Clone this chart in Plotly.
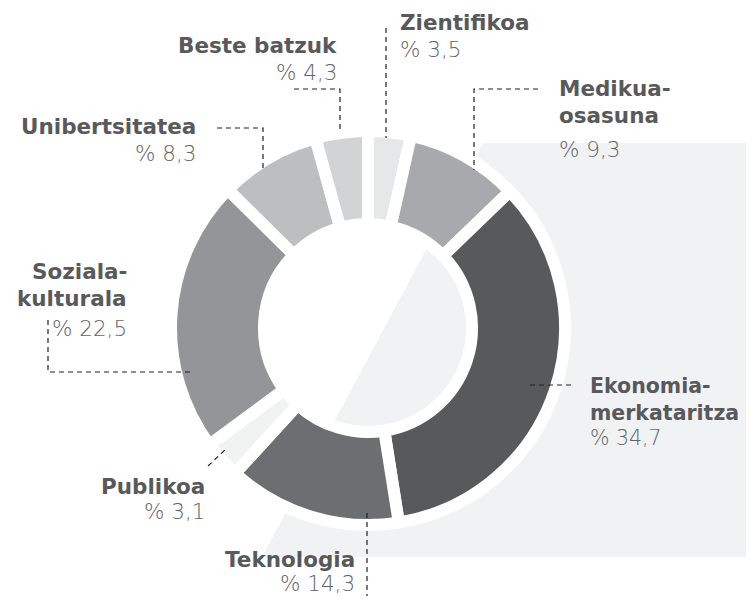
import plotly.graph_objects as go

# ---- data ----
labels = ["Zientifikoa", "Medikua-<br>osasuna", "Ekonomia-<br>merkataritza", "Teknologia",
          "Publikoa", "Soziala-<br>kulturala", "Unibertsitatea", "Beste batzuk"]
values = [3.5, 9.3, 34.7, 14.3, 3.1, 22.5, 8.3, 4.3]
colors = ["#e6e7e8", "#a7a9ac", "#58595b", "#6d6e71", "#f1f2f2", "#939598", "#bcbec0", "#d1d3d4"]

OFF = 8               # page body margin
W, H = 754 - 2 * OFF, 604 - 2 * OFF   # figure fits the window without scrolling

def X(px):            # page pixel -> paper fraction
    return (px - OFF) / W

def Y(py):
    return 1 - (py - OFF) / H

# donut geometry (page pixels)
cx, cy, R = 368, 328, 197

fig = go.Figure()
fig.add_trace(go.Pie(
    labels=labels, values=values, sort=False, direction="clockwise", rotation=0,
    hole=0.528, textinfo="none", hoverinfo="label+value",
    marker=dict(colors=colors, line=dict(color="white", width=12)),
    domain=dict(x=[X(cx - R), X(cx + R)], y=[Y(cy + R), Y(cy - R)]),
    showlegend=False,
))

shapes = []
# background panel
shapes.append(dict(type="path", xref="paper", yref="paper", layer="below",
                   path=f"M {X(483)},{Y(143)} L {X(760)},{Y(143)} L {X(760)},{Y(557)} L {X(262)},{Y(557)} Z",
                   fillcolor="#f1f2f4", line=dict(width=0)))

leaders = [
    [(386, 28), (386, 138)],
    [(538, 89), (474, 89), (474, 170)],
    [(571, 385), (528, 385)],
    [(367, 513), (367, 610)],
    [(208, 466), (227, 448)],
    [(48, 320), (48, 372), (192, 372)],
    [(217, 128), (263, 128), (263, 170)],
    [(294, 89), (340, 89), (340, 132)],
]
for pts in leaders:
    p = "M " + " L ".join(f"{X(a)},{Y(b)}" for a, b in pts)
    shapes.append(dict(type="path", xref="paper", yref="paper", path=p,
                       line=dict(color="#231f20", width=1.2, dash="5px,4px")))

# label anchor positions: (x, anchor, name first-line y, percent y, font size)
label_pos = [
    (398, "left", 22, 49, 21.5),
    (557, "left", 88, 148, 21.5),
    (588, "left", 385, 437, 20.5),
    (357, "right", 558, 582, 21.5),
    (207, "right", 485, 510, 21.5),
    (129, "right", 270, 327, 21.5),
    (198, "right", 126, 152, 21.5),
    (339, "right", 44, 71, 21.5),
]

FONT = "DejaVu Sans"
annotations = []
for lab, val, (x, anc, ny, py, fs) in zip(labels, values, label_pos):
    lines = lab.split("<br>")
    for i, ln in enumerate(lines):
        annotations.append(dict(
            x=X(x), y=Y(ny + 1 + i * 27), xref="paper", yref="paper", xanchor=anc, yanchor="middle",
            text=ln, showarrow=False,
            font=dict(family=FONT, size=fs, color="#58595b", weight=700)))
    annotations.append(dict(
        x=X(x), y=Y(py + 1), xref="paper", yref="paper", xanchor=anc, yanchor="middle",
        text="% " + f"{val:.1f}".replace(".", ","), showarrow=False,
        font=dict(family=FONT, size=fs, color="#636466", weight=300)))

fig.update_layout(
    width=W, height=H, margin=dict(l=0, r=0, t=0, b=0),
    paper_bgcolor="white", plot_bgcolor="white",
    shapes=shapes, annotations=annotations,
)
fig.write_html("out.html")
